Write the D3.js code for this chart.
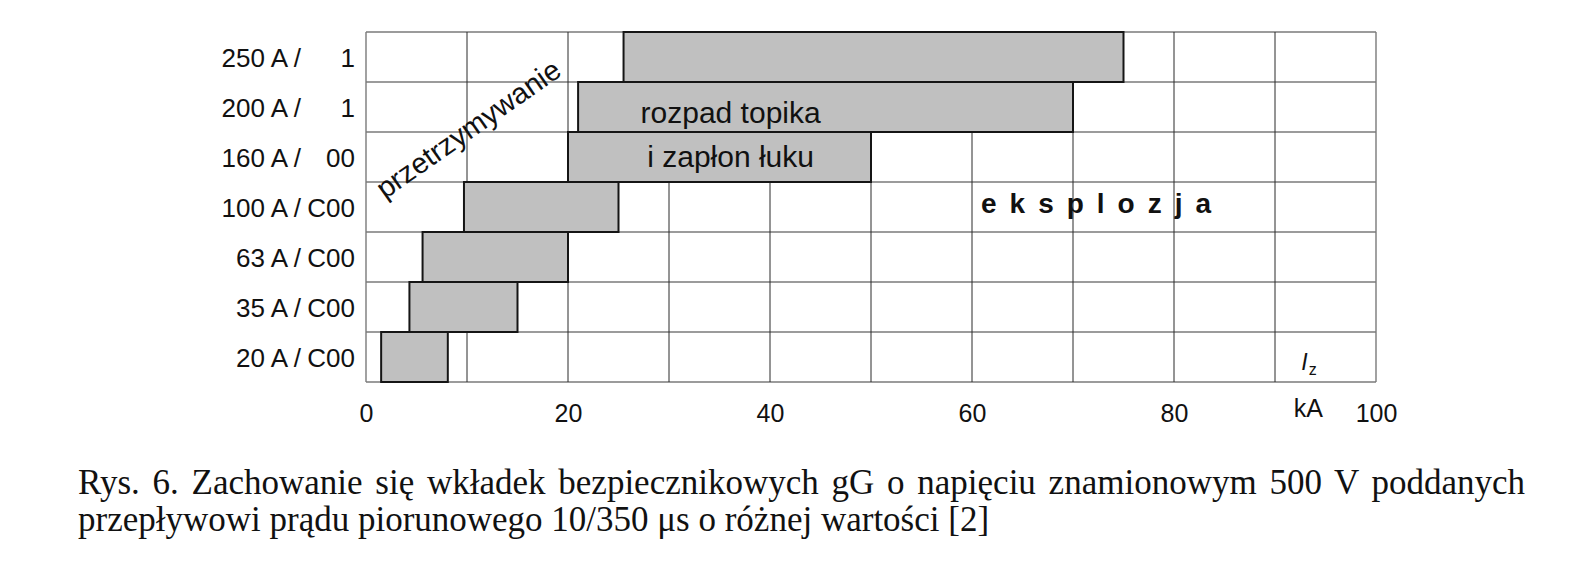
<!DOCTYPE html>
<html>
<head>
<meta charset="utf-8">
<script src="https://cdn.jsdelivr.net/npm/d3@7"></script>
<style>
  html, body { margin: 0; padding: 0; background: #fff; }
  svg { display: block; }
</style>
</head>
<body>
<svg id="chart" width="1577" height="567"></svg>
<script>
// ---- data ----
const categories = ["250 A / 1", "200 A / 1", "160 A / 00", "100 A / C00", "63 A / C00", "35 A / C00", "20 A / C00"];
const labelLeft  = ["250 A /", "200 A /", "160 A /", "100 A /", "63 A /", "35 A /", "20 A /"];
const labelRight = ["1", "1", "00", "C00", "C00", "C00", "C00"];
const startKA = [25.5, 21, 20, 9.7, 5.6, 4.3, 1.5];
const endKA   = [75, 70, 50, 25, 20, 15, 8.1];
const xTicks = [0, 20, 40, 60, 80, 100];
const xGrid = [0, 10, 20, 30, 40, 50, 60, 70, 80, 90, 100];
const captionLines = [
  "Rys. 6. Zachowanie się wkładek bezpiecznikowych gG o napięciu znamionowym 500 V poddanych",
  "przepływowi prądu piorunowego 10/350 μs o różnej wartości [2]"
];

const svg = d3.select("#chart");
const sans = "'Liberation Sans', Arial, sans-serif";
const serif = "'Liberation Serif', 'Times New Roman', serif";

const x = d3.scaleLinear().domain([0, 100]).range([366, 1376]);
const y = d3.scaleBand().domain(categories).range([32, 382]).padding(0);

const g = svg.append("g");

// horizontal grid lines (row boundaries)
const rowEdges = categories.map(c => y(c)).concat([y.range()[1]]);
g.selectAll("line.h").data(rowEdges).enter().append("line")
  .attr("x1", x(0)).attr("x2", x(100))
  .attr("y1", d => d).attr("y2", d => d)
  .attr("stroke", "#7a7a7a").attr("stroke-width", 1.4);

// vertical grid lines
g.selectAll("line.v").data(xGrid).enter().append("line")
  .attr("x1", d => x(d)).attr("x2", d => x(d))
  .attr("y1", y.range()[0]).attr("y2", y.range()[1])
  .attr("stroke", d => (d === 0 || d === 100) ? "#7a7a7a" : "#2a2a2a")
  .attr("stroke-width", d => (d === 0 || d === 100) ? 1.4 : 1);

// bars
g.selectAll("rect.bar").data(categories).enter().append("rect")
  .attr("x", (d, i) => x(startKA[i]))
  .attr("y", d => y(d))
  .attr("width", (d, i) => x(endKA[i]) - x(startKA[i]))
  .attr("height", y.bandwidth())
  .attr("fill", "#c0c0c0")
  .attr("stroke", "#151515")
  .attr("stroke-width", 2);

// category labels
g.selectAll("text.ll").data(categories).enter().append("text")
  .attr("x", 301).attr("y", d => y(d) + y.bandwidth() / 2 + 10)
  .attr("text-anchor", "end")
  .attr("font-family", sans).attr("font-size", 26).attr("fill", "#111")
  .text((d, i) => labelLeft[i]);
g.selectAll("text.lr").data(categories).enter().append("text")
  .attr("x", 355).attr("y", d => y(d) + y.bandwidth() / 2 + 10)
  .attr("text-anchor", "end")
  .attr("font-family", sans).attr("font-size", 26).attr("fill", "#111")
  .text((d, i) => labelRight[i]);

// x axis tick labels
const axis = d3.axisBottom(x).tickValues(xTicks).tickSize(0).tickPadding(0).tickFormat(d3.format("d"));
const ax = svg.append("g").attr("transform", "translate(0,404)").call(axis);
ax.select(".domain").remove();
ax.selectAll("text")
  .attr("font-family", sans).attr("font-size", 25).attr("fill", "#111")
  .attr("dy", "0.72em").attr("y", 0);

// kA unit
svg.append("text").attr("x", x(93.3)).attr("y", 417)
  .attr("text-anchor", "middle")
  .attr("font-family", sans).attr("font-size", 25).attr("fill", "#111")
  .text("kA");

// I_z label
const iz = svg.append("text").attr("x", x(92.6)).attr("y", 370)
  .attr("font-family", sans).attr("fill", "#111");
iz.append("tspan").attr("font-style", "italic").attr("font-size", 23).text("I");
iz.append("tspan").attr("font-size", 16).attr("dx", 1).attr("dy", 5).text("z");

// annotations
const midBar = x(36.1);
svg.append("text").attr("x", midBar).attr("y", y(categories[1]) + 41)
  .attr("text-anchor", "middle")
  .attr("font-family", sans).attr("font-size", 30).attr("fill", "#111")
  .text("rozpad topika");
svg.append("text").attr("x", midBar).attr("y", y(categories[2]) + 35)
  .attr("text-anchor", "middle")
  .attr("font-family", sans).attr("font-size", 30).attr("fill", "#111")
  .text("i zapłon łuku");

svg.append("text").attr("x", 981).attr("y", 213)
  .attr("font-family", sans).attr("font-size", 28).attr("font-weight", "bold")
  .attr("letter-spacing", 13).attr("fill", "#111")
  .text("eksplozja");

svg.append("text")
  .attr("transform", "translate(474,137) rotate(-35)")
  .attr("text-anchor", "middle")
  .attr("font-family", sans).attr("font-size", 29).attr("fill", "#111")
  .text("przetrzymywanie");

// caption
const cap1 = svg.append("text").attr("x", 78).attr("y", 494)
  .attr("font-family", serif).attr("font-size", 35).attr("fill", "#111")
  .text(captionLines[0]);
const natural = cap1.node().getComputedTextLength();
const spaces = (captionLines[0].match(/ /g) || []).length;
const target = 1525 - 78;
cap1.attr("word-spacing", (target - natural) / spaces);

svg.append("text").attr("x", 78).attr("y", 531)
  .attr("font-family", serif).attr("font-size", 35).attr("fill", "#111")
  .text(captionLines[1]);
</script>
</body>
</html>
